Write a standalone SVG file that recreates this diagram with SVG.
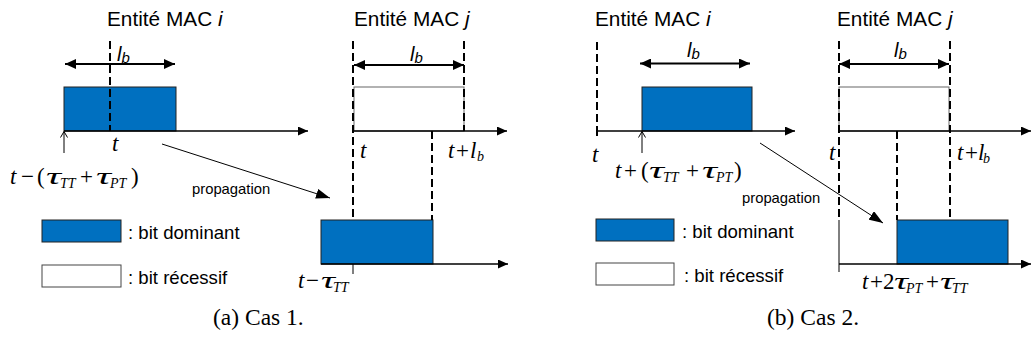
<svg xmlns="http://www.w3.org/2000/svg" width="1032" height="347" viewBox="0 0 1032 347">
<style>
.title{font-family:"Liberation Sans",Arial,sans-serif;font-size:20.8px;fill:#000}
.it{font-style:italic}
.lb{font-family:"Liberation Sans",Arial,sans-serif;font-style:italic;font-size:20px}
.lbs{font-size:15px}
.leg{font-family:"Liberation Sans",Arial,sans-serif;font-size:18.6px}
.prop{font-family:"Liberation Sans",Arial,sans-serif;font-size:14.8px}
.math{font-family:"Liberation Serif","Times New Roman",serif;font-size:23px;font-style:italic}
.up{font-style:normal}
.sub{font-size:14px}
.cap{font-family:"Liberation Serif","Times New Roman",serif;font-size:23.5px}
.axis{stroke:#000;stroke-width:1.3;fill:none}
.dash{stroke:#000;stroke-width:2;stroke-dasharray:8 4;fill:none}
.dbl{stroke:#000;stroke-width:2;fill:none}
.dom{fill:#0070C0;stroke:#222;stroke-width:1}
.rec{fill:#fff;stroke:#666;stroke-width:1}
.thin{stroke:#000;stroke-width:1;fill:none}
</style>
<defs>
<marker id="ah" markerUnits="userSpaceOnUse" markerWidth="10" markerHeight="9" refX="10" refY="4.5" orient="auto"><path d="M0,0 L10,4.5 L0,9 z" fill="#000"/></marker>
<marker id="dh" markerUnits="userSpaceOnUse" markerWidth="11" markerHeight="10" refX="11" refY="5" orient="auto-start-reverse"><path d="M0,0 L11,5 L0,10 z" fill="#000"/></marker>
<marker id="ph" markerUnits="userSpaceOnUse" markerWidth="14" markerHeight="10" refX="14" refY="5" orient="auto"><path d="M0,0 L14,5 L0,10 z" fill="#000"/></marker>
<marker id="oh" markerUnits="userSpaceOnUse" markerWidth="8" markerHeight="8" refX="7" refY="4" orient="auto"><path d="M1,0.5 L7,4 L1,7.5" fill="none" stroke="#000" stroke-width="1"/></marker>
</defs>

<!-- (a) Cas 1 -->
<g id="a-entity-i">
<text class="title" x="107" y="26">Entité MAC <tspan class="it">i</tspan></text>
<rect class="dom" x="64" y="87" width="112" height="44"/>
<line class="dash" x1="110" y1="41" x2="110" y2="131"/>
<line class="dbl" x1="65" y1="64" x2="175" y2="64" marker-start="url(#dh)" marker-end="url(#dh)"/>
<text class="lb" x="117" y="61">l<tspan class="lbs" y="63">b</tspan></text>
<line class="axis" x1="64" y1="131" x2="308" y2="131" marker-end="url(#ah)"/>
<line class="thin" x1="64" y1="153" x2="64" y2="131.5" marker-end="url(#oh)"/>
<text class="math" x="112" y="151">t</text>
<text class="math" y="184"><tspan x="10">t</tspan><tspan class="up" x="21">−</tspan><tspan class="up" x="37">(</tspan><tspan x="46" textLength="15" lengthAdjust="spacingAndGlyphs">τ</tspan><tspan class="sub" x="60" y="188">TT</tspan><tspan class="up" x="80" y="184">+</tspan><tspan x="96" textLength="15" lengthAdjust="spacingAndGlyphs">τ</tspan><tspan class="sub" x="110" y="188">PT</tspan><tspan class="up" x="131" y="184">)</tspan></text>
</g>

<g id="a-entity-j">
<text class="title" x="354" y="26">Entité MAC <tspan class="it">j</tspan></text>
<rect class="rec" x="354" y="87" width="110" height="44"/>
<line class="dbl" x1="354" y1="65" x2="464" y2="65" marker-start="url(#dh)" marker-end="url(#dh)"/>
<text class="lb" x="410" y="61">l<tspan class="lbs" y="63">b</tspan></text>
<line class="axis" x1="354" y1="131" x2="507" y2="131" marker-end="url(#ah)"/>
<rect class="dom" x="321" y="220" width="112" height="44"/>
<line class="axis" x1="321" y1="264" x2="508" y2="264" marker-end="url(#ah)"/>
<line class="thin" x1="353" y1="264" x2="353" y2="274"/>
<line class="dash" x1="353" y1="41" x2="353" y2="220"/>
<line class="dash" x1="464" y1="41" x2="464" y2="131"/>
<line class="dash" x1="432" y1="131" x2="432" y2="220"/>
<text class="math" x="360" y="158">t</text>
<text class="math" y="158"><tspan x="448">t</tspan><tspan class="up" x="456">+</tspan><tspan x="470">l</tspan><tspan class="sub" x="477" y="161">b</tspan></text>
<text class="math" y="288"><tspan x="298">t</tspan><tspan class="up" x="306">−</tspan><tspan x="321" textLength="14" lengthAdjust="spacingAndGlyphs">τ</tspan><tspan class="sub" x="333" y="292">TT</tspan></text>
</g>

<g id="a-legend">
<rect class="dom" x="42" y="220" width="79" height="22"/>
<text class="leg" x="128" y="239">: bit dominant</text>
<rect class="rec" x="42" y="265" width="79" height="22" style="stroke:#444"/>
<text class="leg" x="128" y="284">: bit récessif</text>
</g>

<text class="cap" x="213" y="325">(a) Cas 1.</text>

<!-- (b) Cas 2 -->
<g id="b-entity-i">
<text class="title" x="595" y="26">Entité MAC <tspan class="it">i</tspan></text>
<line class="dash" x1="597" y1="42" x2="597" y2="126"/>
<line class="thin" x1="597" y1="126" x2="597" y2="136" style="stroke-width:2"/>
<rect class="dom" x="642" y="87" width="110" height="44"/>
<line class="dbl" x1="640" y1="63.5" x2="750" y2="63.5" marker-start="url(#dh)" marker-end="url(#dh)"/>
<text class="lb" x="687" y="57">l<tspan class="lbs" y="59">b</tspan></text>
<line class="axis" x1="597" y1="131" x2="795" y2="131" marker-end="url(#ah)"/>
<line class="thin" x1="642" y1="153" x2="642" y2="131.5" marker-end="url(#oh)"/>
<text class="math" x="592" y="162">t</text>
<text class="math" y="178"><tspan x="615">t</tspan><tspan class="up" x="624">+</tspan><tspan class="up" x="641">(</tspan><tspan x="649" textLength="15" lengthAdjust="spacingAndGlyphs">τ</tspan><tspan class="sub" x="663" y="182">TT</tspan><tspan class="up" x="686" y="178">+</tspan><tspan x="702" textLength="15" lengthAdjust="spacingAndGlyphs">τ</tspan><tspan class="sub" x="716" y="182">PT</tspan><tspan class="up" x="734" y="178">)</tspan></text>
</g>

<g id="b-entity-j">
<text class="title" x="837" y="26">Entité MAC <tspan class="it">j</tspan></text>
<rect class="rec" x="839" y="87" width="110" height="44"/>
<line class="dbl" x1="839" y1="64" x2="949" y2="64" marker-start="url(#dh)" marker-end="url(#dh)"/>
<text class="lb" x="894" y="57">l<tspan class="lbs" y="59">b</tspan></text>
<line class="axis" x1="839" y1="131" x2="1031" y2="131" marker-end="url(#ah)"/>
<rect class="dom" x="897" y="220" width="111" height="44"/>
<line class="axis" x1="839" y1="264" x2="1031" y2="264" marker-end="url(#ah)"/>
<line class="thin" x1="839" y1="220" x2="839" y2="272"/>
<line class="dash" x1="839" y1="41" x2="839" y2="220"/>
<line class="dash" x1="950" y1="41" x2="950" y2="220"/>
<line class="dash" x1="897" y1="131" x2="897" y2="220"/>
<text class="math" x="829" y="160">t</text>
<text class="math" y="160"><tspan x="957">t</tspan><tspan class="up" x="965">+</tspan><tspan x="978">l</tspan><tspan class="sub" x="983" y="163">b</tspan></text>
<text class="math" y="289"><tspan x="862">t</tspan><tspan class="up" x="870">+</tspan><tspan class="up" x="883">2</tspan><tspan x="894" textLength="14" lengthAdjust="spacingAndGlyphs">τ</tspan><tspan class="sub" x="906" y="293">PT</tspan><tspan class="up" x="926" y="289">+</tspan><tspan x="940" textLength="14" lengthAdjust="spacingAndGlyphs">τ</tspan><tspan class="sub" x="952" y="293">TT</tspan></text>
</g>

<g id="b-legend">
<rect class="dom" x="596" y="219" width="78" height="22"/>
<text class="leg" x="682" y="238">: bit dominant</text>
<rect class="rec" x="596" y="263" width="78" height="22" style="stroke:#444"/>
<text class="leg" x="684" y="282">: bit récessif</text>
</g>

<text class="cap" x="767" y="325">(b) Cas 2.</text>

<g id="connectors">
<line class="thin" x1="162" y1="144" x2="330" y2="198" marker-end="url(#ph)"/>
<text class="prop" x="192" y="194">propagation</text>
<line class="thin" x1="760" y1="143" x2="883" y2="223" marker-end="url(#ph)"/>
<text class="prop" x="742" y="203">propagation</text>
</g>
</svg>
